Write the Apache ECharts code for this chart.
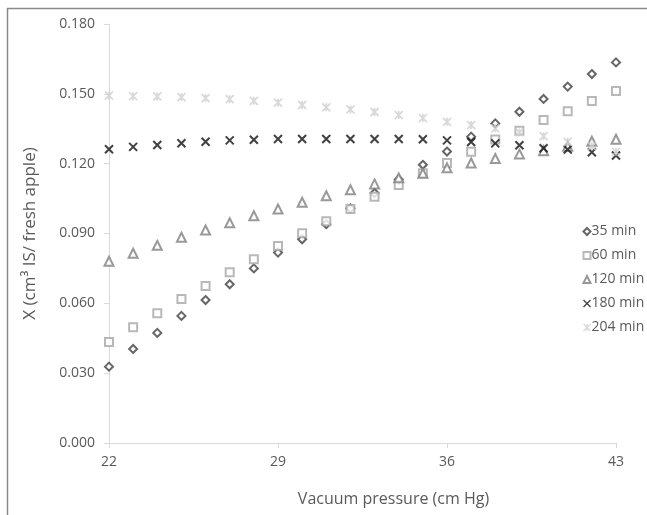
<!DOCTYPE html>
<html>
<head>
<meta charset="utf-8">
<script src="https://cdn.jsdelivr.net/npm/echarts@6/dist/echarts.min.js"></script>
<style>html,body{margin:0;padding:0;background:#fff;}#c{width:647px;height:515px;}</style>
</head>
<body>
<div id="c"></div>
<script>
var pressure = [22,23,24,25,26,27,28,29,30,31,32,33,34,35,36,37,38,39,40,41,42,43];
var m35  = [0.0328,0.0404,0.0473,0.0546,0.0614,0.0682,0.0750,0.0818,0.0875,0.0940,0.1008,0.1074,0.1132,0.1195,0.1252,0.1316,0.1373,0.1423,0.1478,0.1531,0.1585,0.1635];
var m60  = [0.0434,0.0497,0.0557,0.0619,0.0674,0.0733,0.0789,0.0846,0.0901,0.0953,0.1005,0.1058,0.1108,0.1159,0.1203,0.1251,0.1304,0.1341,0.1388,0.1425,0.1469,0.1512];
var m120 = [0.0781,0.0815,0.0849,0.0884,0.0915,0.0946,0.0976,0.1005,0.1034,0.1062,0.1088,0.1113,0.1139,0.1159,0.1182,0.1203,0.1222,0.1241,0.1256,0.1275,0.1296,0.1305];
var m180 = [0.1262,0.1272,0.1280,0.1288,0.1294,0.1300,0.1303,0.1306,0.1306,0.1306,0.1306,0.1306,0.1306,0.1305,0.1300,0.1293,0.1287,0.1279,0.1266,0.1261,0.1249,0.1235];
var m204 = [0.1492,0.1490,0.1489,0.1486,0.1482,0.1477,0.1470,0.1462,0.1452,0.1442,0.1433,0.1422,0.1409,0.1396,0.1380,0.1366,0.1352,0.1334,0.1318,0.1294,0.1275,0.1251];
var seriesNames = ['35 min','60 min','120 min','180 min','204 min'];
var xTicks = [22,29,36,43];

function pairs(ys){ return pressure.map(function(x,i){ return [x, ys[i]]; }); }
var FONT = 'Open Sans';
var TXT = '#595959';
var xPath = 'path://M0,0L10,10M10,0L0,10';
var starPath = 'path://M0,0L10,10M10,0L0,10M5,0L5,10';

var chart = echarts.init(document.getElementById('c'), null, {renderer:'canvas'});
chart.setOption({
  backgroundColor:'#fff',
  animation:false,
  graphic:[{type:'rect', shape:{x:7.5,y:8.5,width:700,height:600}, style:{fill:'none', stroke:'#8a8a8a', lineWidth:1.5}, silent:true}],
  grid:{left:109, right:31, top:24, bottom:72},
  legend:{
    orient:'vertical', left:581, top:222, padding:0, itemGap:5, itemWidth:7, itemHeight:7,
    itemStyle:{borderWidth:1.3},
    textStyle:{fontFamily:FONT, fontSize:14, color:TXT, padding:[0,0,0,-4], lineHeight:19},
    data:seriesNames
  },
  xAxis:{
    type:'value', min:22, max:43,
    name:'Vacuum pressure (cm Hg)', nameLocation:'middle', nameGap:48,
    nameTextStyle:{fontFamily:FONT, fontSize:16, color:TXT, padding:[0,0,0,62]},
    axisLine:{show:true, lineStyle:{color:'#d9d9d9', width:1}},
    axisTick:{show:true, inside:false, length:5, customValues:xTicks, lineStyle:{color:'#d9d9d9'}},
    axisLabel:{customValues:xTicks, fontFamily:FONT, fontSize:14, color:TXT, margin:12},
    splitLine:{show:false}
  },
  yAxis:{
    type:'value', min:0, max:0.18, interval:0.03,
    name:'X (cm\u00b3 IS/ fresh apple)', nameLocation:'middle', nameGap:70,
    nameTextStyle:{fontFamily:FONT, fontSize:17, color:TXT},
    axisLine:{show:true, lineStyle:{color:'#d9d9d9', width:1}},
    axisTick:{show:true, length:5, lineStyle:{color:'#d9d9d9'}},
    axisLabel:{fontFamily:FONT, fontSize:14, color:TXT, margin:14, formatter:function(v){return v.toFixed(3);}},
    splitLine:{show:false}
  },
  series:[
    {name:seriesNames[0], type:'scatter', data:pairs(m35), symbol:'emptyDiamond', symbolSize:8,
      itemStyle:{color:'#404040', borderColor:'#404040', borderWidth:1.6}},
    {name:seriesNames[1], type:'scatter', data:pairs(m60), symbol:'emptyRect', symbolSize:8,
      itemStyle:{color:'#a6a6a6', borderColor:'#a6a6a6', borderWidth:1.5}},
    {name:seriesNames[2], type:'scatter', data:pairs(m120), symbol:'emptyTriangle', symbolSize:9,
      itemStyle:{color:'#7f7f7f', borderColor:'#7f7f7f', borderWidth:1.5}},
    {name:seriesNames[3], type:'scatter', data:pairs(m180), symbol:xPath, symbolSize:8,
      itemStyle:{color:'none', borderColor:'#111111', borderWidth:2}},
    {name:seriesNames[4], type:'scatter', data:pairs(m204), symbol:starPath, symbolSize:8,
      itemStyle:{color:'none', borderColor:'#d0d0d0', borderWidth:1.8}}
  ]
});
</script>
</body>
</html>
